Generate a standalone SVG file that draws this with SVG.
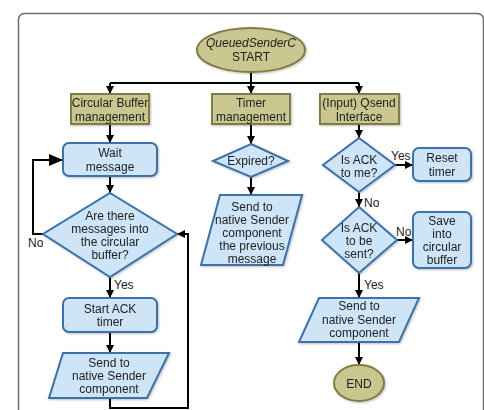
<svg xmlns="http://www.w3.org/2000/svg" width="484" height="410" viewBox="0 0 484 410">
<defs>
<marker id="arr" markerUnits="userSpaceOnUse" markerWidth="9" markerHeight="8" refX="8" refY="4" orient="auto">
<path d="M0,0 L8,4 L0,8 Z" fill="#000"/>
</marker>
<marker id="arrBig" markerUnits="userSpaceOnUse" markerWidth="15" markerHeight="12" refX="14" refY="6" orient="auto">
<path d="M0,0 L14,6 L0,12 Z" fill="#000"/>
</marker>
<filter id="sh" x="-10%" y="-10%" width="130%" height="130%">
<feDropShadow dx="1" dy="1" stdDeviation="1" flood-color="#000" flood-opacity="0.25"/>
</filter>
</defs>
<style>
.olive{fill:#c9c78f;stroke:#7f7d45;stroke-width:2}
.blue{fill:#cde5f7;stroke:#3c71aa;stroke-width:2}
text{font-family:"Liberation Sans",Arial,sans-serif;font-size:12px;fill:#222;text-anchor:middle}
.lbl{text-anchor:start}
.ln{fill:none;stroke:#000;stroke-width:2}
</style>
<rect x="18.5" y="13.5" width="465" height="420" rx="6" fill="#fff" stroke="#6e6e6e" stroke-width="1.5"/>

<g id="connectors">
<path class="ln" d="M251,72 V94" marker-end="url(#arr)"/>
<path class="ln" d="M110,83 H359"/>
<path class="ln" d="M110,83 V94" marker-end="url(#arr)"/>
<path class="ln" d="M359,83 V94" marker-end="url(#arr)"/>
<path class="ln" d="M110,124 V143" marker-end="url(#arr)"/>
<path class="ln" d="M110,176 V193" marker-end="url(#arr)"/>
<path class="ln" d="M43,234 H33 V160 H63" marker-end="url(#arrBig)"/>
<path class="ln" d="M110,277 V298" marker-end="url(#arr)"/>
<path class="ln" d="M110,332 V353" marker-end="url(#arr)"/>
<path class="ln" d="M110,398 V408 H188 V234 H177" marker-end="url(#arr)"/>
<path class="ln" d="M251,124 V144" marker-end="url(#arr)"/>
<path class="ln" d="M251,177 V195" marker-end="url(#arr)"/>
<path class="ln" d="M359,124 V138" marker-end="url(#arr)"/>
<path class="ln" d="M395,165 H413" marker-end="url(#arr)"/>
<path class="ln" d="M359,192 V207" marker-end="url(#arr)"/>
<path class="ln" d="M397,240 H413" marker-end="url(#arr)"/>
<path class="ln" d="M359,273 V298" marker-end="url(#arr)"/>
<path class="ln" d="M359,342 V365" marker-end="url(#arr)"/>
<text class="lbl" x="28" y="247">No</text>
<text class="lbl" x="114" y="289">Yes</text>
<text class="lbl" x="391" y="160">Yes</text>
<text class="lbl" x="364" y="207">No</text>
<text class="lbl" x="396" y="236">No</text>
<text class="lbl" x="364" y="289">Yes</text>
</g>

<g id="start" filter="url(#sh)">
<ellipse class="olive" cx="251" cy="50" rx="54" ry="22"/>
<text x="251" y="47" font-style="italic">QueuedSenderC</text>
<text x="251" y="61">START</text>
</g>

<g id="circbuf" filter="url(#sh)">
<rect class="olive" x="71" y="94" width="78" height="30"/>
<text x="110" y="107">Circular Buffer</text>
<text x="110" y="121">management</text>
</g>

<g id="timer" filter="url(#sh)">
<rect class="olive" x="212" y="94" width="78" height="30"/>
<text x="251" y="107">Timer</text>
<text x="251" y="121">management</text>
</g>

<g id="qsend" filter="url(#sh)">
<rect class="olive" x="320" y="94" width="79" height="30"/>
<text x="359" y="107">(Input) Qsend</text>
<text x="359" y="121">Interface</text>
</g>

<g id="wait" filter="url(#sh)">
<rect class="blue" x="63" y="143" width="94" height="33" rx="6"/>
<text x="110" y="157">Wait</text>
<text x="110" y="171">message</text>
</g>

<g id="arethere" filter="url(#sh)">
<polygon class="blue" points="110,193 177,234 110,277 43,234"/>
<text x="110" y="220">Are there</text>
<text x="110" y="233">messages into</text>
<text x="110" y="246">the circular</text>
<text x="110" y="259">buffer?</text>
</g>

<g id="startack" filter="url(#sh)">
<rect class="blue" x="63" y="298" width="94" height="34" rx="6"/>
<text x="110" y="313">Start ACK</text>
<text x="110" y="326">timer</text>
</g>

<g id="send1" filter="url(#sh)">
<polygon class="blue" points="63,353 169,353 147,398 49,398"/>
<text x="109" y="367">Send to</text>
<text x="109" y="380">native Sender</text>
<text x="109" y="393">component</text>
</g>

<g id="expired" filter="url(#sh)">
<polygon class="blue" points="251,144 288,161 251,177 213,161"/>
<text x="251" y="165">Expired?</text>
</g>

<g id="send2" filter="url(#sh)">
<polygon class="blue" points="220,195 302,195 283,265 201,265"/>
<text x="252" y="211">Send to</text>
<text x="252" y="224">native Sender</text>
<text x="252" y="237">component</text>
<text x="252" y="250">the previous</text>
<text x="252" y="263">message</text>
</g>

<g id="acktome" filter="url(#sh)">
<polygon class="blue" points="359,138 395,165 359,192 323,165"/>
<text x="359" y="164">Is ACK</text>
<text x="359" y="177">to me?</text>
</g>

<g id="reset" filter="url(#sh)">
<rect class="blue" x="413" y="148" width="58" height="33" rx="6"/>
<text x="442" y="162">Reset</text>
<text x="442" y="176">timer</text>
</g>

<g id="acktobesent" filter="url(#sh)">
<polygon class="blue" points="359,207 397,240 359,273 322,240"/>
<text x="359" y="232">Is ACK</text>
<text x="359" y="245">to be</text>
<text x="359" y="258">sent?</text>
</g>

<g id="save" filter="url(#sh)">
<rect class="blue" x="413" y="212" width="58" height="56" rx="6"/>
<text x="442" y="225">Save</text>
<text x="442" y="238">into</text>
<text x="442" y="251">circular</text>
<text x="442" y="264">buffer</text>
</g>

<g id="send3" filter="url(#sh)">
<polygon class="blue" points="319,298 419,298 399,342 299,342"/>
<text x="359" y="310">Send to</text>
<text x="359" y="324">native Sender</text>
<text x="359" y="337">component</text>
</g>

<g id="end" filter="url(#sh)">
<ellipse class="olive" cx="359" cy="383" rx="25" ry="18"/>
<text x="359" y="388">END</text>
</g>
</svg>
